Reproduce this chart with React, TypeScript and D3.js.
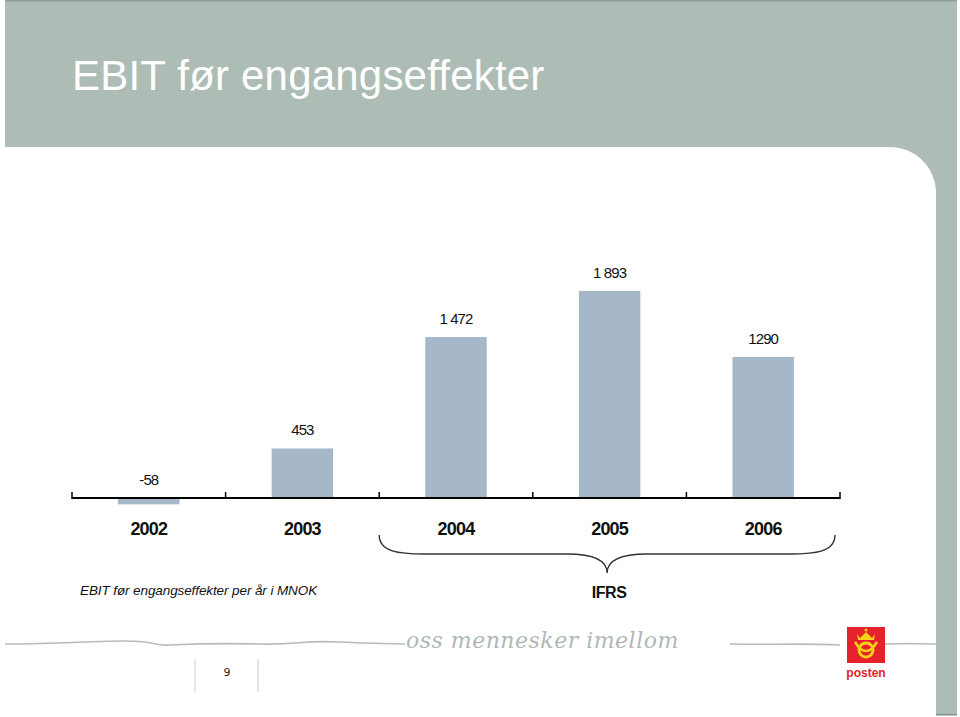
import React from "react";
import * as d3 from "d3";

const years = ["2002", "2003", "2004", "2005", "2006"];
const ebit = [-58, 453, 1472, 1893, 1290];
const valueLabels = ["-58", "453", "1 472", "1 893", "1290"];
const ifrsYears = ["2004", "2005", "2006"];

const W = 960;
const H = 717;
const slateGray = "#adbdb5";
const barColor = "#a5b7c9";

export default function App() {
  const x = d3
    .scaleBand<string>()
    .domain(years)
    .range([72, 840])
    .paddingInner(0.6)
    .paddingOuter(0.3);
  const step = x.step();
  const x0 = 72;

  const y = d3.scaleLinear().domain([0, d3.max(ebit) as number]).range([498, 291]);
  const base = y(0);

  // tick boundaries between categories
  const ticks = d3.range(years.length + 1).map((i) => x0 + i * step);

  // curly brace under the IFRS years
  const bL = x0 + years.indexOf(ifrsYears[0]) * step;
  const bR = x0 + (years.indexOf(ifrsYears[ifrsYears.length - 1]) + 1) * step - 5;
  const bM = (bL + bR) / 2;
  const bTop = 535;
  const bMid = 554;
  const bTip = 573;
  const brace = d3.path();
  brace.moveTo(bL, bTop);
  brace.bezierCurveTo(bL, bMid - 2, bL + 20, bMid, bL + 45, bMid);
  brace.lineTo(bM - 40, bMid);
  brace.bezierCurveTo(bM - 15, bMid, bM, bMid + 6, bM, bTip);
  brace.bezierCurveTo(bM, bMid + 6, bM + 15, bMid, bM + 40, bMid);
  brace.lineTo(bR - 45, bMid);
  brace.bezierCurveTo(bR - 20, bMid, bR, bMid - 2, bR, bTop);

  const r = 46;
  const bandBottom = 147;
  const stripX = 936;

  return (
    <svg
      width={W}
      height={H}
      style={{ position: "absolute", left: 0, top: 0 }}
      fontFamily="'Liberation Sans', Arial, sans-serif"
    >
      <rect width={W} height={H} fill="#fff" />
      {/* header band and right strip */}
      <rect x={5} y={0} width={952} height={220} fill={slateGray} />
      <rect x={5} y={0} width={952} height={1.5} fill="#8f9f98" />
      <path
        d={`M0,${bandBottom} H${stripX - r} A${r},${r} 0 0 1 ${stripX},${bandBottom + r} V${H} H0 Z`}
        fill="#fff"
      />
      <rect x={stripX} y={bandBottom} width={21} height={568} fill={slateGray} />
      <rect x={stripX} y={714} width={21} height={1.5} fill="#7f8f88" />
      <text x={72} y={90} fill="#fff" fontSize={42} letterSpacing={0.2}>
        EBIT før engangseffekter
      </text>

      {/* bars */}
      {years.map((yr, i) => {
        const v = ebit[i];
        return (
          <rect
            key={yr}
            x={x(yr)}
            width={x.bandwidth()}
            y={v >= 0 ? y(v) : base}
            height={Math.abs(y(v) - base)}
            fill={barColor}
          />
        );
      })}

      {/* axis */}
      <line x1={x0} x2={x0 + years.length * step} y1={base} y2={base} stroke="#000" strokeWidth={2} />
      {ticks.map((t, i) => (
        <line key={i} x1={t} x2={t} y1={base + 1} y2={base - 6} stroke="#000" strokeWidth={1.5} />
      ))}

      {/* value labels */}
      {years.map((yr, i) => (
        <text
          key={yr}
          x={(x(yr) as number) + x.bandwidth() / 2}
          y={y(Math.max(ebit[i], 0)) - 13}
          textAnchor="middle"
          fontSize={15}
          fill="#111"
          letterSpacing={-0.9}
        >
          {valueLabels[i]}
        </text>
      ))}

      {/* category labels */}
      {years.map((yr) => (
        <text
          key={yr}
          x={(x(yr) as number) + x.bandwidth() / 2}
          y={535}
          textAnchor="middle"
          fontSize={18}
          fontWeight="bold"
          fill="#111"
          letterSpacing={-0.8}
        >
          {yr}
        </text>
      ))}

      <path d={brace.toString()} fill="none" stroke="#333" strokeWidth={1.4} />
      <text x={bM + 2} y={598} textAnchor="middle" fontSize={16} fontWeight="bold" fill="#111"
        letterSpacing={-0.4}>
        IFRS
      </text>

      <text x={80} y={595} fontSize={13.5} fontStyle="italic" fill="#111" letterSpacing={-0.1}>
        EBIT før engangseffekter per år i MNOK
      </text>

      {/* footer: handwritten slogan line */}
      <path
        d="M5,644 C60,644 90,641 125,641 S150,646 170,645 S220,643 260,644 S300,640 340,642 S380,643 405,644 M730,644 C770,645 800,643 840,645 M885,644 C905,643 920,644 936,644"
        fill="none"
        stroke="#b5bdbb"
        strokeWidth={1.6}
      />
      <text x={406} y={648} fontSize={22} fontStyle="italic" fill="#b0b8b6" letterSpacing={0.5}
        fontFamily="'DejaVu Serif', serif">
        oss mennesker imellom
      </text>

      {/* page number */}
      <line x1={195} x2={195} y1={659} y2={692} stroke="#ccc" />
      <line x1={258} x2={258} y1={659} y2={692} stroke="#ccc" />
      <text x={227} y={676} textAnchor="middle" fontSize={11} fill="#222"
        fontFamily="'DejaVu Sans', sans-serif">
        9
      </text>

      {/* posten logo */}
      <rect x={847} y={627} width={38} height={36} fill="#e5222b" />
      <g fill="none" stroke="#f7d117" strokeWidth={3}>
        <circle cx={866} cy={650} r={7} />
      </g>
      <path d="M855,642 Q866,660 877,642" fill="none" stroke="#f7d117" strokeWidth={2.5} />
      <path d="M857,634 L860,638 L866,632 L872,638 L875,634 L874,640 L858,640 Z" fill="#f7d117" />
      <circle cx={866} cy={630} r={1.5} fill="#f7d117" />
      <text x={866} y={677} textAnchor="middle" fontSize={12} fontWeight="bold" fill="#e5222b">
        posten
      </text>
    </svg>
  );
}
